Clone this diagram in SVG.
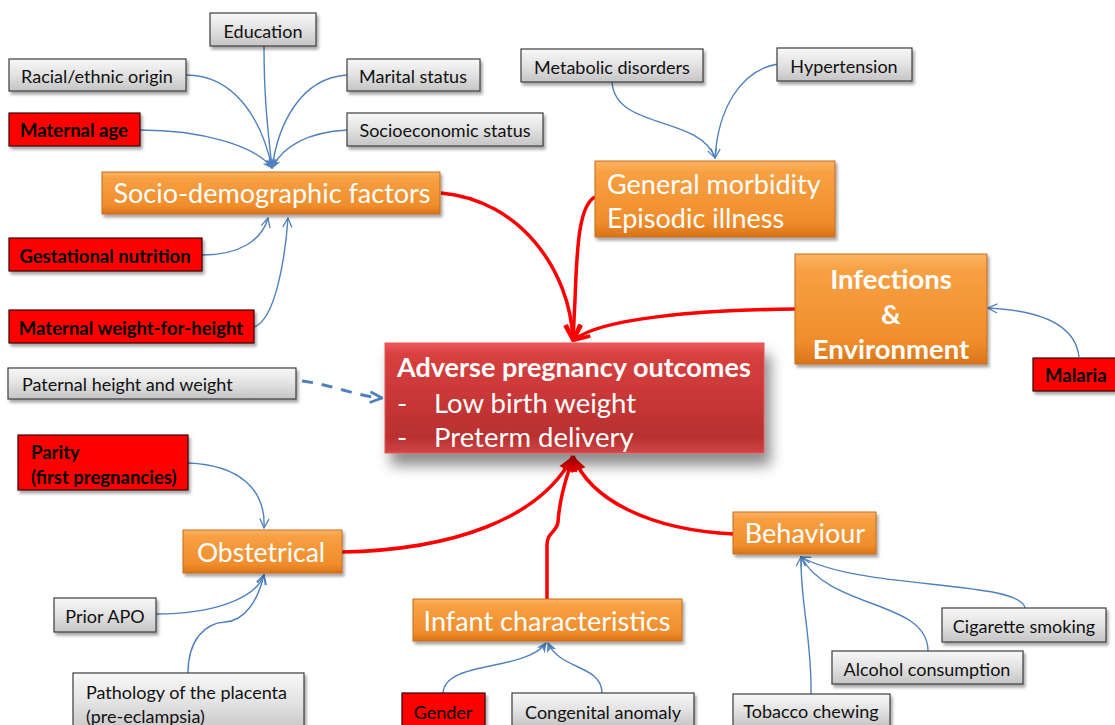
<svg xmlns="http://www.w3.org/2000/svg" width="1115" height="725" viewBox="0 0 1115 725">
<defs>
<linearGradient id="gGray" x1="0" y1="0" x2="0" y2="1">
<stop offset="0" stop-color="#f8f8f8"/><stop offset="0.5" stop-color="#e2e2e2"/><stop offset="1" stop-color="#c4c4c4"/>
</linearGradient>
<linearGradient id="gOrange" x1="0" y1="0" x2="0" y2="1">
<stop offset="0" stop-color="#fbb462"/><stop offset="0.15" stop-color="#f7a043"/><stop offset="0.8" stop-color="#f08d2c"/><stop offset="1" stop-color="#d8741a"/>
</linearGradient>
<linearGradient id="gAdverse" x1="0" y1="0" x2="0" y2="1">
<stop offset="0" stop-color="#ef5b5a"/><stop offset="0.1" stop-color="#d94040"/><stop offset="0.85" stop-color="#b92f2f"/><stop offset="1" stop-color="#cf4646"/>
</linearGradient>
<filter id="sh" x="-10%" y="-20%" width="130%" height="160%">
<feDropShadow dx="2" dy="3" stdDeviation="1.5" flood-color="#000" flood-opacity="0.35"/>
</filter>
<filter id="shBig" x="-10%" y="-20%" width="130%" height="170%">
<feDropShadow dx="6" dy="12" stdDeviation="7" flood-color="#000" flood-opacity="0.45"/>
</filter>
<marker id="mBlueFill" viewBox="0 0 10 10" refX="9" refY="5" markerWidth="10" markerHeight="10" markerUnits="userSpaceOnUse" orient="auto">
<path d="M0,0 L10,5 L0,10 L3,5 z" fill="#4f81bd"/>
</marker>
<marker id="mBlueOpen" viewBox="0 0 12 12" refX="11" refY="6" markerWidth="11" markerHeight="11" markerUnits="userSpaceOnUse" orient="auto">
<path d="M1,1 L11,6 L1,11" fill="none" stroke="#4f81bd" stroke-width="1.4"/>
</marker>
<marker id="mBlueDash" viewBox="0 0 12 12" refX="11" refY="6" markerWidth="16" markerHeight="16" markerUnits="userSpaceOnUse" orient="auto">
<path d="M2,2 L11,6 L2,10" fill="none" stroke="#4f81bd" stroke-width="2"/>
</marker>
<marker id="mRedOpen" viewBox="0 0 12 12" refX="11" refY="6" markerWidth="20" markerHeight="20" markerUnits="userSpaceOnUse" orient="auto">
<path d="M2,1.5 L11,6 L2,10.5" fill="none" stroke="#ff0000" stroke-width="2.2"/>
</marker>
<marker id="mRedFill" viewBox="0 0 12 12" refX="11" refY="6" markerWidth="18" markerHeight="18" markerUnits="userSpaceOnUse" orient="auto">
<path d="M1,1 L11,6 L1,11 z" fill="#ff0000"/>
</marker>
</defs>
<style>
text{font-family:Lato,"Liberation Sans",sans-serif}
.gray{fill:url(#gGray);stroke:#3c3c3c;stroke-width:1.2;filter:url(#sh)}
.redbox{fill:#ff0000;stroke:#3a0a0a;stroke-width:1.2;filter:url(#sh)}
.orange{fill:url(#gOrange);stroke:#c96a1c;stroke-width:1;filter:url(#sh)}
.t{font-size:18px;fill:#111}
.tb{font-size:18.5px;fill:#000;font-weight:bold}
.to{font-size:27px;fill:#fff}
.tob{font-size:27.5px;fill:#fff;font-weight:bold}
.c{text-anchor:middle}
.blue{fill:none;stroke:#4f81bd;stroke-width:1.4}
.red{fill:none;stroke:#ff0000;stroke-width:3.5}
</style>

<g id="connectors">
<path class="blue" d="M264,46 C264,100 268,130 272,168" marker-end="url(#mBlueFill)"/>
<path class="blue" d="M186,75 C235,75 262,120 272,168" marker-end="url(#mBlueFill)"/>
<path class="blue" d="M347,75 C300,78 278,125 272,168" marker-end="url(#mBlueFill)"/>
<path class="blue" d="M140,130 C200,130 255,145 272,168" marker-end="url(#mBlueFill)"/>
<path class="blue" d="M347,130 C310,132 283,145 272,168" marker-end="url(#mBlueFill)"/>
<path class="blue" d="M202,255 C240,255 262,240 268,218" marker-end="url(#mBlueOpen)"/>
<path class="blue" d="M254,327 C275,320 285,260 288,218" marker-end="url(#mBlueOpen)"/>
<path class="blue" d="M612,82 C615,130 700,115 715,158" marker-end="url(#mBlueOpen)"/>
<path class="blue" d="M778,64 C740,70 718,110 715,158" marker-end="url(#mBlueOpen)"/>
<path class="blue" d="M1079,357 C1075,320 1030,310 988,308" marker-end="url(#mBlueOpen)"/>
<path class="blue" d="M188,463 C240,465 266,490 264,528" marker-end="url(#mBlueOpen)"/>
<path class="blue" d="M156,614 C210,614 255,600 264,575" marker-end="url(#mBlueOpen)"/>
<path class="blue" d="M188,673 C188,640 205,623 225,622 C245,621 258,600 264,575" marker-end="url(#mBlueOpen)"/>
<path class="blue" d="M443,693 C445,660 525,672 546,643" marker-end="url(#mBlueFill)"/>
<path class="blue" d="M602,693 C602,665 560,670 548,643" marker-end="url(#mBlueFill)"/>
<path class="blue" d="M1025,608 C1020,580 860,590 801,557" marker-end="url(#mBlueOpen)"/>
<path class="blue" d="M928,651 C928,600 830,610 801,557" marker-end="url(#mBlueOpen)"/>
<path class="blue" d="M811,694 C812,640 800,600 801,557" marker-end="url(#mBlueOpen)"/>
<path fill="none" stroke="#4f81bd" stroke-width="3" stroke-dasharray="11 9" d="M302,381 C330,384 355,396 382,398" marker-end="url(#mBlueDash)"/>
<path class="red" d="M441,193 C520,200 570,270 573,340" marker-end="url(#mRedOpen)"/>
<path class="red" d="M595,197 C580,205 577,240 575,300 L573,340" marker-end="url(#mRedOpen)"/>
<path class="red" d="M795,309 C700,310 600,318 574,340" marker-end="url(#mRedOpen)"/>
<path class="red" d="M342,552 C450,550 540,520 573,456" marker-end="url(#mRedFill)"/>
<path class="red" d="M547,599 L547,545 C547,532 557,532 558,522 C560,490 570,470 573,456" marker-end="url(#mRedFill)"/>
<path class="red" d="M734,534 C650,530 590,500 573,456" marker-end="url(#mRedFill)"/>
</g>

<g id="n-education"><rect class="gray" x="210" y="13" width="106" height="33"/><text class="t c" x="263" y="37.5">Education</text></g>
<g id="n-racial"><rect class="gray" x="9" y="59" width="177" height="32"/><text class="t c" x="97" y="82.5">Racial/ethnic origin</text></g>
<g id="n-marital"><rect class="gray" x="347" y="59" width="133" height="32"/><text class="t c" x="413" y="82.5">Marital status</text></g>
<g id="n-maternal-age"><rect class="redbox" x="9" y="113" width="131" height="33"/><text class="tb c" x="74" y="136.5">Maternal age</text></g>
<g id="n-socioeconomic"><rect class="gray" x="347" y="113" width="196" height="33"/><text class="t c" x="445" y="136.5">Socioeconomic status</text></g>
<g id="n-sociodemographic"><rect class="orange" x="102" y="172" width="338" height="42"/><text class="to c" x="272" y="203">Socio-demographic factors</text></g>
<g id="n-gestational"><rect class="redbox" x="9" y="238" width="193" height="33"/><text class="tb c" x="105" y="262.5">Gestational nutrition</text></g>
<g id="n-maternal-wfh"><rect class="redbox" x="9" y="310" width="245" height="33"/><text class="tb c" x="131" y="334.5">Maternal weight-for-height</text></g>
<g id="n-paternal"><rect class="gray" x="8" y="368" width="288" height="31"/><text class="t" x="22" y="391">Paternal height and weight</text></g>

<g id="n-metabolic"><rect class="gray" x="521" y="49" width="182" height="33"/><text class="t c" x="612" y="73.5">Metabolic disorders</text></g>
<g id="n-hypertension"><rect class="gray" x="777" y="48" width="135" height="33"/><text class="t c" x="844" y="72.5">Hypertension</text></g>
<g id="n-general-morbidity"><rect class="orange" x="595" y="161" width="240" height="76"/><text class="to" x="607" y="194">General morbidity</text><text class="to" x="607" y="228">Episodic illness</text></g>
<g id="n-infections"><rect class="orange" x="795" y="254" width="192" height="110"/><text class="tob c" x="891" y="289">Infections</text><text class="tob c" x="891" y="324">&amp;</text><text class="tob c" x="891" y="359">Environment</text></g>
<g id="n-malaria"><rect class="redbox" x="1033" y="358" width="85" height="33"/><text class="tb" x="1045" y="382">Malaria</text></g>

<g id="n-adverse"><rect x="385" y="343" width="379" height="110" fill="url(#gAdverse)" stroke="#e25555" stroke-width="1" filter="url(#shBig)"/>
<text x="397" y="377" fill="#fff" font-weight="bold" font-size="27">Adverse pregnancy outcomes</text>
<text x="397" y="413" fill="#fff" font-size="27.5">-</text><text x="434" y="413" fill="#fff" font-size="27.5">Low birth weight</text>
<text x="397" y="447" fill="#fff" font-size="27.5">-</text><text x="434" y="447" fill="#fff" font-size="27.5">Preterm delivery</text></g>

<g id="n-parity"><rect class="redbox" x="18" y="435" width="170" height="55"/><text class="tb" x="31" y="459">Parity</text><text class="tb" x="31" y="484">(first pregnancies)</text></g>
<g id="n-obstetrical"><rect class="orange" x="183" y="530" width="159" height="43"/><text class="to c" x="261" y="562" style="font-size:26.5px">Obstetrical</text></g>
<g id="n-prior-apo"><rect class="gray" x="54" y="598" width="102" height="34"/><text class="t c" x="105" y="622.5">Prior APO</text></g>
<g id="n-pathology"><rect class="gray" x="73" y="673" width="231" height="60"/><text class="t" x="86" y="699">Pathology of the placenta</text><text class="t" x="86" y="723">(pre-eclampsia)</text></g>
<g id="n-infant"><rect class="orange" x="413" y="599" width="269" height="42"/><text class="to c" x="547" y="631">Infant characteristics</text></g>
<g id="n-gender"><rect class="redbox" x="402" y="693" width="83" height="34"/><text class="t c" x="443" y="719" style="fill:#000">Gender</text></g>
<g id="n-congenital"><rect class="gray" x="512" y="693" width="182" height="34"/><text class="t c" x="603" y="719">Congenital anomaly</text></g>
<g id="n-behaviour"><rect class="orange" x="733" y="512" width="143" height="42"/><text class="to c" x="805" y="543">Behaviour</text></g>
<g id="n-cigarette"><rect class="gray" x="942" y="608" width="164" height="34"/><text class="t c" x="1024" y="632.5">Cigarette smoking</text></g>
<g id="n-alcohol"><rect class="gray" x="832" y="651" width="191" height="33"/><text class="t c" x="927" y="675.5">Alcohol consumption</text></g>
<g id="n-tobacco"><rect class="gray" x="733" y="694" width="157" height="33"/><text class="t c" x="811" y="718">Tobacco chewing</text></g>
</svg>
